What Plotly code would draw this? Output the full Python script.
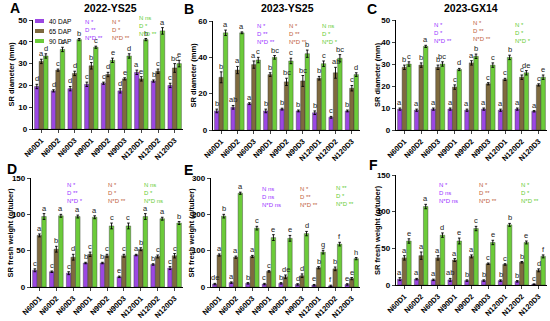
import plotly.graph_objects as go

groups = ["N60D1", "N60D2", "N60D3", "N90D1", "N90D2", "N90D3", "N120D1", "N120D2", "N120D3"]
series_names = ["40 DAP", "65 DAP", "90 DAP"]
series_colors = ["#9B47E2", "#7E6A3E", "#6CCB3A"]
stat_colors = ["#9933FF", "#C0603A", "#66CC33"]

# Panel A: 2022-YS25 SR diameter (mm)
A_40 = [19.5, 17.5, 18.5, 20.5, 21, 17.5, 26, 22, 20]
A_65 = [31, 27, 25.5, 29, 25, 23, 23, 26.5, 28]
A_90 = [33.5, 36.5, 41, 37.5, 31.5, 33.5, 41, 45, 30]
A_e40 = [1, 0.5, 1, 1, 0.5, 1, 1, 0.5, 1]
A_e65 = [1, 0.5, 1, 1.5, 1, 0.5, 1, 1, 2]
A_e90 = [1, 1, 0.5, 0.5, 1, 1, 0.5, 1.5, 1.5]
A_L40 = ["d", "d", "d", "c", "c", "d", "a", "b", "c"]
A_L65 = ["a", "c", "d", "b", "d", "e", "e", "c", "bc"]
A_L90 = ["d", "c", "b", "c", "e", "d", "b", "a", "e"]

# Panel B: 2023-YS25 SR diameter (mm)
B_40 = [10.5, 12.5, 14.5, 10.5, 11.5, 10.5, 9.5, 7, 10.5]
B_65 = [29, 33, 36, 30.5, 26.5, 27, 28.5, 31.5, 23]
B_90 = [53.5, 53.5, 38.5, 40, 38, 42, 36.5, 39.5, 30.5]
B_e40 = [1, 1, 0.5, 1, 0.5, 0.5, 1, 0.5, 0.5]
B_e65 = [3, 2, 2, 1, 2, 3, 1, 3, 1.5]
B_e90 = [1.5, 0.5, 1.5, 1, 1.5, 2, 1.5, 2, 1]
B_L40 = ["b", "ab", "a", "b", "b", "b", "b", "c", "b"]
B_L65 = ["b", "a", "a", "b", "bc", "bc", "b", "ab", "c"]
B_L90 = ["a", "a", "c", "bc", "c", "b", "c", "bc", "d"]

# Panel C: 2023-GX14 SR diameter (mm)
C_40 = [9.5, 9, 9.5, 9.5, 9, 9.5, 9, 9.5, 8.5]
C_65 = [28.5, 29.5, 28.5, 19.5, 30.5, 21, 23, 24, 20.5]
C_90 = [30, 38, 30, 27.5, 33.5, 29.5, 33, 26, 24]
C_e40 = [0.5, 0.5, 0.5, 0.5, 0.5, 0.5, 0.5, 0.5, 0.3]
C_e65 = [1, 1, 1, 1, 1, 0.5, 0.5, 1, 0.5]
C_e90 = [1, 0.5, 1, 0.5, 1, 1, 1, 1, 1]
C_L40 = ["a", "a", "a", "a", "a", "a", "a", "a", "a"]
C_L65 = ["b", "b", "b", "c", "a", "c", "c", "c", "c"]
C_L90 = ["c", "a", "bc", "d", "b", "c", "b", "de", "e"]

# Panel D: 2022-YS25 SR fresh weight (g/tuber)
D_40 = [23, 21, 19, 33, 33, 14, 44, 31, 26]
D_65 = [71, 52, 41, 45, 43, 43, 52, 42, 43]
D_90 = [97, 98, 97, 96, 84, 84, 97, 94, 88]
D_e40 = [2, 1, 2, 1, 1, 1, 1, 1, 2]
D_e65 = [2, 4, 4, 3, 2, 2, 2, 2, 3]
D_e90 = [4, 2, 2, 2, 4, 4, 4, 2, 2]
D_L40 = ["c", "c", "c", "b", "b", "e", "a", "b", "c"]
D_L65 = ["a", "b", "d", "c", "c", "c", "b", "c", "c"]
D_L90 = ["a", "a", "a", "a", "c", "c", "a", "a", "b"]

# Panel E: 2023-YS25 SR fresh weight (g/tuber)
E_40 = [8, 12, 10, 8, 10, 7, 5, 3, 7]
E_65 = [88, 82, 84, 43, 28, 31, 53, 50, 23]
E_90 = [195, 258, 162, 136, 134, 147, 96, 118, 78]
E_e40 = [2, 2, 2, 2, 2, 2, 2, 2, 2]
E_e65 = [3, 3, 3, 2, 5, 5, 3, 5, 3]
E_e90 = [5, 3, 5, 8, 8, 6, 5, 5, 3]
E_L40 = ["de", "a", "b", "c", "b", "d", "e", "f", "e"]
E_L65 = ["a", "a", "a", "c", "de", "d", "b", "b", "e"]
E_L90 = ["b", "a", "c", "e", "e", "d", "g", "f", "h"]

# Panel F: 2023-GX14 SR fresh weight (g/tuber)
F_40 = [8, 8, 7, 7, 6, 6, 6, 5, 1]
F_65 = [37, 40, 37, 34, 39, 29, 28, 31, 20]
F_90 = [60, 107, 68, 60, 77, 58, 82, 58, 39]
F_e40 = [2, 1, 1, 2, 1, 1, 1, 1, 0.5]
F_e65 = [3, 5, 3, 2, 2, 1, 1, 1, 2]
F_e90 = [3, 3, 3, 4, 3, 3, 2, 2, 2]
F_L40 = ["a", "a", "a", "ab", "b", "b", "b", "b", "c"]
F_L65 = ["a", "a", "a", "a", "a", "c", "c", "b", "d"]
F_L90 = ["e", "a", "d", "e", "c", "e", "b", "e", "f"]

titles = ["2022-YS25", "2023-YS25", "2023-GX14", "", "", ""]
panel_letters = ["A", "B", "C", "D", "E", "F"]
y_titles = ["SR diameter (mm)"] * 3 + ["SR fresh weight (g/tuber)"] * 3
y_ranges = [[0, 50], [0, 60], [0, 50], [0, 150], [0, 300], [0, 150]]
y_dticks = [10, 20, 10, 50, 100, 50]

stats = [
    ["N *<br>D **<br>N*D **", "N *<br>D *<br>N*D **", "N ns<br>D *<br>N*D **"],
    ["N *<br>D **<br>N*D **", "N *<br>D **<br>N*D **", "N ns<br>D *<br>N*D *"],
    ["N *<br>D *<br>N*D **", "N *<br>D **<br>N*D **", "N *<br>D *<br>N*D *"],
    ["N *<br>D **<br>N*D *", "N *<br>D *<br>N*D **", "N ns<br>D *<br>N*D ns"],
    ["N ns<br>D ns<br>N*D ns", "N *<br>D **<br>N*D **", "N **<br>D *<br>N*D **"],
    ["N *<br>D ns<br>N*D ns", "N *<br>D **<br>N*D **", "N *<br>D *<br>N*D **"],
]

panels = [
    ([A_40, A_65, A_90], [A_e40, A_e65, A_e90], [A_L40, A_L65, A_L90]),
    ([B_40, B_65, B_90], [B_e40, B_e65, B_e90], [B_L40, B_L65, B_L90]),
    ([C_40, C_65, C_90], [C_e40, C_e65, C_e90], [C_L40, C_L65, C_L90]),
    ([D_40, D_65, D_90], [D_e40, D_e65, D_e90], [D_L40, D_L65, D_L90]),
    ([E_40, E_65, E_90], [E_e40, E_e65, E_e90], [E_L40, E_L65, E_L90]),
    ([F_40, F_65, F_90], [F_e40, F_e65, F_e90], [F_L40, F_L65, F_L90]),
]

W, H = 550, 321
# plot areas in pixels: (left, right, top, bottom)
boxes = [(33, 183, 20, 129), (213, 360, 21, 130), (396, 547, 20, 130),
         (31, 183, 178, 287), (211, 360, 178, 287), (396, 547, 175, 285)]
title_pos = [(110, 8), (287, 8), (471, 8)]
letter_pos = [(15, 8), (189, 9), (372, 9), (12, 169), (188, 170), (373, 165)]
ytitle_x = [11, 193, 377, 10, 191, 377]
stat_pos = [
    [(83, 17), (110, 17), (137, 13)],
    [(255, 21), (287, 21), (320, 21)],
    [(432, 20), (471, 18), (513, 20)],
    [(65, 180), (106, 180), (142, 180)],
    [(260, 184), (298, 184), (334, 183)],
    [(437, 180), (477, 180), (519, 180)],
]

FONT = "Liberation Sans, Arial, sans-serif"
fig = go.Figure()
offsets = [-0.27, 0.0, 0.27]
bw = 0.27
x_idx = list(range(len(groups)))
annotations = []

for p, (vals, errs, lets) in enumerate(panels):
    xa = "x" if p == 0 else f"x{p+1}"
    ya = "y" if p == 0 else f"y{p+1}"
    for s in range(3):
        fig.add_trace(go.Bar(
            x=[i + offsets[s] for i in x_idx], y=vals[s], width=bw,
            marker=dict(color=series_colors[s], line=dict(color="#333333", width=0.4)),
            error_y=dict(type="data", array=errs[s], color="black", thickness=0.9, width=1.3),
            xaxis=xa, yaxis=ya, showlegend=False, name=series_names[s],
        ))
        for i in x_idx:
            annotations.append(dict(
                x=i + offsets[s], y=vals[s][i] + errs[s][i], xref=xa, yref=ya,
                text=lets[s][i], showarrow=False, yanchor="bottom", xanchor="center",
                font=dict(size=7.5, color="#222222", family=FONT), yshift=-1,
            ))
    l, r, t, b = boxes[p]
    axsuffix = "" if p == 0 else str(p + 1)
    fig.update_layout(**{
        f"xaxis{axsuffix}": dict(
            domain=[l / W, r / W], anchor=ya, range=[-0.5, 8.5], automargin=False,
            tickmode="array", tickvals=x_idx, ticktext=groups,
            tickangle=-45, tickfont=dict(size=7.5, color="black", family=FONT, weight="bold"),
            showline=True, linecolor="black", linewidth=1.3, ticks="outside",
            ticklen=3, tickwidth=1, showgrid=False, zeroline=False,
        ),
        f"yaxis{axsuffix}": dict(
            domain=[1 - b / H, 1 - t / H], anchor=xa, range=y_ranges[p], automargin=False,
            dtick=y_dticks[p], tickfont=dict(size=8, color="black", family=FONT, weight="bold"),
            tickformat="d", showline=True, linecolor="black", linewidth=1.3,
            ticks="outside", ticklen=3, tickwidth=1.2, showgrid=False, zeroline=False,
        ),
    })
    # y-axis title as rotated text
    annotations.append(dict(x=ytitle_x[p] / W, y=1 - ((t + b) / 2) / H, xref="paper", yref="paper",
                            text=f"<b>{y_titles[p]}</b>", showarrow=False, textangle=-90,
                            xanchor="center", yanchor="middle",
                            font=dict(size=7.5, color="black", family=FONT)))
    if titles[p]:
        tx, ty = title_pos[p]
        annotations.append(dict(x=tx / W, y=1 - ty / H, xref="paper", yref="paper",
                                text=f"<b>{titles[p]}</b>", showarrow=False,
                                xanchor="center", yanchor="middle",
                                font=dict(size=10.5, color="black", family=FONT)))
    lx, ly = letter_pos[p]
    annotations.append(dict(x=lx / W, y=1 - ly / H, xref="paper", yref="paper",
                            text=f"<b>{panel_letters[p]}</b>", showarrow=False,
                            xanchor="center", yanchor="middle",
                            font=dict(size=14, color="black", family=FONT)))
    for s in range(3):
        sx, sy = stat_pos[p][s]
        annotations.append(dict(x=sx / W, y=1 - sy / H, xref="paper", yref="paper",
                                text=stats[p][s], showarrow=False, align="left",
                                xanchor="left", yanchor="top",
                                font=dict(size=6, color=stat_colors[s], family=FONT)))

# manual legend in panel A
shapes = []
leg_rows = [21, 31, 41]
for s in range(3):
    yc = leg_rows[s]
    shapes.append(dict(type="rect", xref="paper", yref="paper",
                       x0=35 / W, x1=44 / W, y0=1 - (yc + 2) / H, y1=1 - (yc - 2) / H,
                       fillcolor=series_colors[s], line=dict(width=0)))
    annotations.append(dict(x=47 / W, y=1 - yc / H, xref="paper", yref="paper",
                            text=series_names[s], showarrow=False, xanchor="left",
                            yanchor="middle",
                            font=dict(size=6.5, color="black", family=FONT)))

fig.update_layout(
    width=W, height=H, margin=dict(l=0, r=0, t=0, b=0),
    paper_bgcolor="white", plot_bgcolor="white",
    barmode="overlay", annotations=annotations, shapes=shapes,
    font=dict(family=FONT),
)
fig.write_html("out.html", config={"displayModeBar": False},
               post_script="document.body.style.margin='0px';document.body.style.overflow='hidden';")
